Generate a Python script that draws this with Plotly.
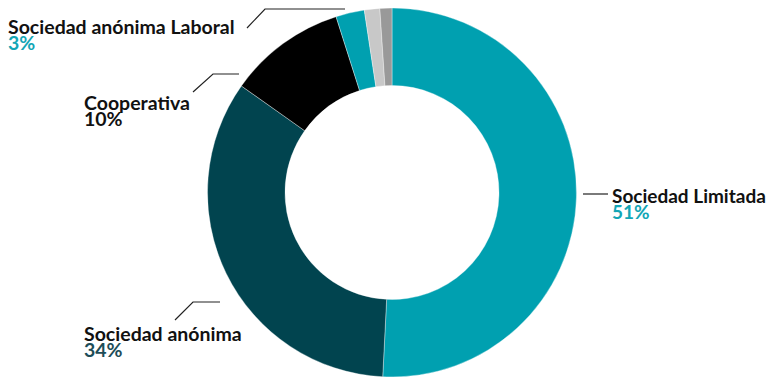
import plotly.graph_objects as go

# page is rendered with an 8px body margin; figure sized to fit the window
OFF = 8
W, H = 777 - OFF, 377 - OFF

# ---- data ----
categories = ["Sociedad Limitada", "Sociedad anónima", "Cooperativa",
              "Sociedad anónima Laboral", "Otra 1", "Otra 2"]
values = [50.8, 34.0, 10.3, 2.5, 1.35, 1.05]
slice_colors = ["#00a0b0", "#01444f", "#000000", "#00a0b0", "#c8c8c8", "#999999"]

label_names = ["Sociedad Limitada", "Sociedad anónima", "Cooperativa", "Sociedad anónima Laboral"]
label_pcts = ["51%", "34%", "10%", "3%"]
pct_colors = ["#13a6b6", "#1d4d58", "#111111", "#13a6b6"]


def px(x):  # page pixel -> paper
    return (x - OFF) / W


def py(y):
    return 1 - (y - OFF) / H


cx, r = 392, 185
fig = go.Figure(go.Pie(
    labels=categories, values=values, sort=False, direction="clockwise", rotation=0,
    hole=0.58, textinfo="none", hoverinfo="skip",
    marker=dict(colors=slice_colors, line=dict(color="rgba(255,255,255,0.6)", width=0.6)),
    domain=dict(x=[px(cx - r), px(cx + r)], y=[0, 1]),
    showlegend=False,
))

FONT = "Lato"
# label positions (left x, cap-center y for name, center y for pct, font size)
pos = [
    (611, 195, 211, 19),
    (83, 333, 349, 19.5),
    (83, 102, 118, 19.5),
    (7, 26, 42, 19.5),
]
ann = []
for (x, yn, yp, fs), name, pct, pc in zip(pos, label_names, label_pcts, pct_colors):
    ann.append(dict(x=px(x), y=py(yn), xref="paper", yref="paper", text=f"<b>{name}</b>",
                    showarrow=False, xanchor="left", yanchor="middle", align="left",
                    borderpad=0,
                    font=dict(family=FONT, size=fs, color="#111111")))
    ann.append(dict(x=px(x), y=py(yp), xref="paper", yref="paper", text=f"<b>{pct}</b>",
                    showarrow=False, xanchor="left", yanchor="middle", align="left",
                    borderpad=0,
                    font=dict(family=FONT, size=fs, color=pc)))

leaders = [
    [(583, 194), (608, 194)],
    [(175, 320), (193, 302), (220, 302)],
    [(193, 92), (213, 74), (239, 74)],
    [(247, 28), (265, 9), (345, 9)],
]
shapes = []
for pts in leaders:
    path = "M " + " L ".join(f"{px(x)},{py(y)}" for x, y in pts)
    shapes.append(dict(type="path", path=path, xref="paper", yref="paper",
                       line=dict(color="#222222", width=1.2)))

fig.update_layout(
    width=W, height=H, margin=dict(l=0, r=0, t=0, b=0),
    paper_bgcolor="white", plot_bgcolor="white",
    annotations=ann, shapes=shapes,
)
fig.write_html("out.html")
